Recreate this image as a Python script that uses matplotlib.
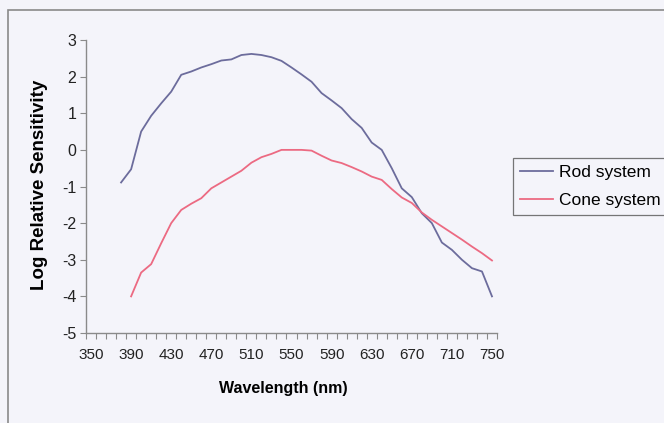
import numpy as np
import matplotlib
matplotlib.use("Agg")
import matplotlib.pyplot as plt
from matplotlib.patches import Rectangle

plt.rcParams['font.family'] = ['Liberation Sans', 'DejaVu Sans']

# data (log relative sensitivity)
rod_wl = list(range(380, 751, 10))
rod_vals = [-0.89, -0.53, 0.50, 0.93, 1.27, 1.59, 2.05, 2.14, 2.25, 2.34,
            2.44, 2.47, 2.59, 2.62, 2.59, 2.53, 2.43, 2.25, 2.06, 1.86,
            1.55, 1.35, 1.14, 0.84, 0.60, 0.20, 0.00, -0.50, -1.05, -1.29,
            -1.73, -2.00, -2.53, -2.73, -3.00, -3.23, -3.32, -4.00]

cone_wl = list(range(390, 751, 10))
cone_vals = [-4.00, -3.35, -3.12, -2.55, -2.00, -1.64, -1.47, -1.32, -1.05, -0.89,
             -0.73, -0.57, -0.35, -0.20, -0.11, 0.00, 0.00, 0.00, -0.02, -0.16,
             -0.29, -0.36, -0.47, -0.59, -0.73, -0.82, -1.07, -1.30, -1.45, -1.71,
             -1.91, -2.09, -2.27, -2.45, -2.64, -2.82, -3.02]

xtick_labels = list(range(350, 751, 40))
yticks = list(range(-5, 4))

bg = '#f4f4fa'
W, H = 664, 423

fig = plt.figure(figsize=(W / 100, H / 100), dpi=100, facecolor=bg)

# outer chart border (runs off the right and bottom edges)
fig.patches.append(Rectangle((8 / W, -0.1), 1.2, 1.1 - 10 / H,
                             transform=fig.transFigure, fill=False,
                             edgecolor='#8a8a8a', linewidth=1.2))

ax = fig.add_axes([86 / W, 1 - 333 / H, 411 / W, 293 / H], facecolor=bg)

ax.plot(rod_wl, rod_vals, color='#6c6c9c', linewidth=1.3, label='Rod system')
ax.plot(cone_wl, cone_vals, color='#ec6a82', linewidth=1.3, label='Cone system')

ax.set_xlim(345, 755)
ax.set_ylim(-5, 3)

ax.set_xticks(xtick_labels)
ax.set_xticklabels([str(v) for v in xtick_labels], fontsize=11)
ax.tick_params(axis='x', which='major', length=0, pad=11, colors='#222222')
ax.set_xticks(np.arange(345, 756, 10), minor=True)
ax.tick_params(axis='x', which='minor', length=4, width=0.8, color='#8a8a8a', direction='out')

ax.set_yticks(yticks)
ax.set_yticklabels([str(v) for v in yticks], fontsize=11.5)
ax.tick_params(axis='y', length=4, width=0.8, colors='#222222', pad=3)
ax.tick_params(axis='y', color='#8a8a8a')

for s in ['top', 'right']:
    ax.spines[s].set_visible(False)
for s in ['left', 'bottom']:
    ax.spines[s].set_color('#8a8a8a')
    ax.spines[s].set_linewidth(1.0)

ax.set_xlabel('Wavelength (nm)', fontsize=11.5, fontweight='bold', va='center')
ax.xaxis.set_label_coords((283 - 86) / 411, (333 - 388) / 293)
ax.set_ylabel('Log Relative Sensitivity', fontsize=13.5, fontweight='bold', va='center')
ax.yaxis.set_label_coords((40 - 86) / 411, (333 - 185) / 293)

leg = fig.legend(loc='upper left', bbox_to_anchor=(513 / W, 1 - 158 / H),
                 fontsize=12.5, frameon=True, fancybox=False, borderpad=0.4,
                 handlelength=1.9, handletextpad=0.35, labelspacing=0.72,
                 borderaxespad=0)
leg.get_frame().set_edgecolor('#555555')
leg.get_frame().set_facecolor(bg)
leg.get_frame().set_linewidth(0.9)

fig.savefig('out.png', dpi=100, facecolor=bg)
